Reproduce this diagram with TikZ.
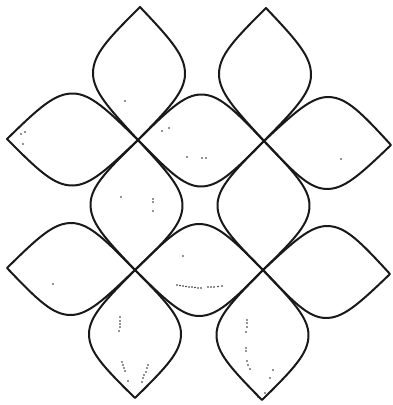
\documentclass[tikz,border=0pt]{standalone}
\begin{document}
\begin{tikzpicture}[x=1pt,y=-1pt,
  petalline/.style={draw=black!90, line width=2pt, line join=round},
  speck/.style={fill=black!85}]
\useasboundingbox (0,0) rectangle (392,405);
\newcommand\petal[4]{%
  \pgfmathsetmacro\pang{atan2(-(#4-#2),#3-#1)}%
  \pgfmathsetmacro\plen{veclen(#3-#1,#4-#2)}%
  \pgfmathsetmacro\psc{\plen/130}%
  \begin{scope}[shift={(#1,#2)}, rotate=\pang, xscale=\psc]
    \path[petalline] (0,0) .. controls (30,29) and (47,46) .. (65,46)
      .. controls (83,46) and (98,32) .. (130,0)
      .. controls (98,-32) and (83,-46) .. (65,-46)
      .. controls (47,-46) and (30,-29) .. (0,0) -- cycle;
  \end{scope}}
% outer petals
\petal{138}{140}{140}{7}
\petal{138}{140}{7}{139}
\petal{264}{141}{266}{8}
\petal{264}{141}{391}{145}
\petal{135}{270}{7}{268}
\petal{135}{270}{135}{398}
\petal{263}{270}{390}{274}
\petal{263}{270}{262}{400}
% inner petals
\petal{138}{140}{264}{141}
\petal{138}{140}{135}{270}
\petal{264}{141}{263}{270}
\petal{135}{270}{263}{270}
% specks
\foreach \p in {(125,101),(162,131),(169,128),(21,134),(25,132),(23,144),
  (187,157),(202,158),(206,158),(121,197),(153,199),(153,202),(153,211),
  (341,159),(183,256),(53,284),
  (177,285),(180,285.5),(183,286),(186,286.5),(189,287),(192,287),(195,287.5),(198,288),(201,288),
  (208,287),(211,287),(214,287),(218,286.5),(222,286),
  (120,317),(120,321),(120,324),(120,327),(119,331),
  (122,362),(123,365),(124,368),(125,371),(128,381),
  (148,365),(147,368),(146,372),(144,375),(143,378),(142,382),
  (247,320),(247,323),(247,327),(246,332),(246,348),(246,351),
  (247,361),(248,365),(250,369),(273,370),(270,378),(258,397),(265,393)}
  \fill[speck] \p circle (0.9);
\end{tikzpicture}
\end{document}
